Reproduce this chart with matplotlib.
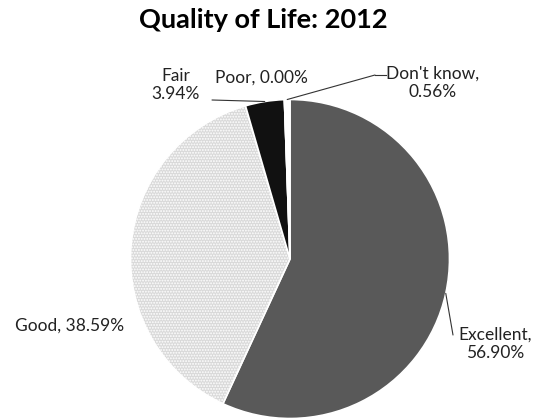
import numpy as np
import matplotlib
matplotlib.use("Agg")
import matplotlib.pyplot as plt

# data
labels = ["Excellent", "Good", "Fair", "Poor", "Don't know"]
values = [56.90, 38.59, 3.94, 0.00, 0.56]
colors = ["#595959", "#d9d9d9", "#111111", "#ffffff", "#ffffff"]

plt.rcParams['font.family'] = ['Lato', 'DejaVu Sans']
plt.rcParams['hatch.linewidth'] = 0.9
plt.rcParams['hatch.color'] = '#555555'

W, H = 546, 419
fig = plt.figure(figsize=(W / 100, H / 100), dpi=100)

# pie axes: centre (290, 259) px, radius ~159.5 px
cx, cy, r = 290, 259, 159.5
ax = fig.add_axes([(cx - r) / W, (H - cy - r) / H, 2 * r / W, 2 * r / H])

wedges, _ = ax.pie(values, colors=colors, startangle=90, counterclock=False,
                   radius=1, wedgeprops=dict(edgecolor='white', linewidth=1.2))
wedges[1].set_hatch('......')
if hasattr(wedges[1], 'set_hatchcolor'):
    wedges[1].set_hatchcolor('#555555')
ax.set_xlim(-1, 1)
ax.set_ylim(-1, 1)
ax.set_aspect('equal')
ax.axis('off')

# mid angle of each slice (clockwise from top)
cum = np.cumsum([0] + values[:-1])
mid = 90 - (cum + np.array(values) / 2) / sum(values) * 360
edge = [(np.cos(np.radians(a)), np.sin(np.radians(a))) for a in mid]

def px(x, y):
    # figure pixels (from top-left) -> figure fraction
    return (x / W, 1 - y / H)

fig.text(*px(263, 20), "Quality of Life: 2012", ha='center', va='center',
         fontsize=19.5, fontweight='bold')

lab_kw = dict(fontsize=12.5, color='#222222', ha='center', va='center',
              linespacing=1.15, textcoords='figure fraction')
line = dict(arrowstyle='-', color='#333333', lw=0.8, shrinkA=0, shrinkB=0)

# Excellent
ax.annotate("Excellent,\n56.90%", xy=edge[0], xytext=px(495, 344), **lab_kw)
ax.annotate("", xy=edge[0], xytext=px(453, 335), textcoords='figure fraction',
            arrowprops=line)
# Good
ax.annotate("Good, 38.59%", xy=edge[1], xytext=px(70, 326), **lab_kw)
# Fair
ax.annotate("Fair\n3.94%", xy=edge[2], xytext=px(176, 85), **lab_kw)
ax.annotate("", xy=edge[2], xytext=px(212, 100), textcoords='figure fraction',
            arrowprops=line)
# Poor
ax.annotate("Poor, 0.00%", xy=edge[3], xytext=px(261, 78), **lab_kw)
# Don't know
ax.annotate("Don't know,\n0.56%", xy=edge[4], xytext=px(433, 83), **lab_kw)
ax.annotate("", xy=edge[4], xytext=px(375, 75), textcoords='figure fraction',
            arrowprops=line)
fig.add_artist(plt.Line2D([375 / W, 386 / W], [1 - 75 / H, 1 - 75 / H],
                          color='#333333', lw=0.8))

fig.savefig("out.png", dpi=100)
